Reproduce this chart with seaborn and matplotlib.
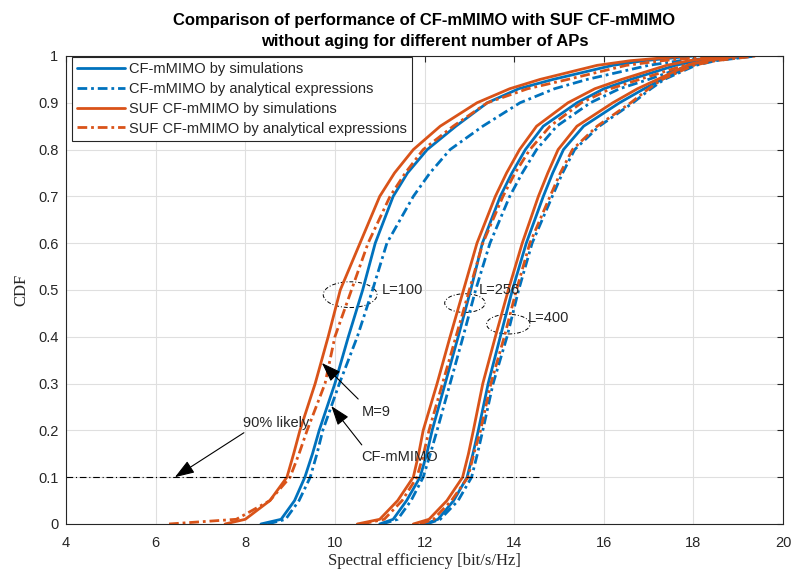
"""CDF of spectral efficiency: CF-mMIMO vs SUF CF-mMIMO (no aging), L = 100/256/400 APs."""
import matplotlib
matplotlib.use("Agg")
import matplotlib.pyplot as plt
from matplotlib.patches import Ellipse
import pandas as pd
import seaborn as sns

# ---------- data ----------
CDF = [0, 0.01, 0.05, 0.1, 0.15, 0.2, 0.3, 0.4, 0.5, 0.6, 0.7, 0.75, 0.8, 0.85, 0.9,
       0.93, 0.95, 0.98, 0.99, 1.0]

CF_SIM_100 = [8.35, 8.8, 9.1, 9.33, 9.5, 9.65, 10.0, 10.3, 10.62, 10.9, 11.3, 11.62, 12.06,
              12.7, 13.4, 14.1, 14.87, 16.2, 16.9, 18.0]
CF_ANA_100 = [8.5, 8.9, 9.2, 9.45, 9.6, 9.73, 10.1, 10.5, 10.84, 11.16, 11.75, 12.12, 12.57,
              13.3, 14.13, 14.9, 15.63, 17.0, 17.7, 19.0]
SUF_SIM_100 = [7.55, 8.0, 8.55, 8.93, 9.08, 9.22, 9.56, 9.85, 10.12, 10.56, 11.0, 11.33, 11.75,
               12.35, 13.17, 13.9, 14.58, 15.85, 16.6, 17.8]
SUF_ANA_100 = [6.3, 7.8, 8.55, 9.0, 9.2, 9.38, 9.78, 10.0, 10.37, 10.74, 11.23, 11.57, 11.97,
               12.64, 13.4, 14.3, 15.2, 16.5, 17.3, 18.5]

CF_SIM_256 = [11.0, 11.3, 11.6, 11.9, 12.05, 12.17, 12.46, 12.75, 13.03, 13.29, 13.69, 13.95,
              14.25, 14.65, 15.4, 16.0, 16.6, 17.6, 18.1, 19.0]
CF_ANA_256 = [11.05, 11.4, 11.7, 11.97, 12.13, 12.28, 12.57, 12.86, 13.14, 13.46, 13.9, 14.18,
              14.5, 14.95, 15.7, 16.35, 17.0, 17.9, 18.4, 19.3]
SUF_SIM_256 = [10.5, 11.0, 11.4, 11.75, 11.87, 11.97, 12.28, 12.57, 12.87, 13.17, 13.58, 13.83,
               14.12, 14.5, 15.2, 15.8, 16.4, 17.4, 17.9, 18.8]
SUF_ANA_256 = [10.6, 11.1, 11.5, 11.83, 11.98, 12.1, 12.4, 12.7, 13.0, 13.3, 13.75, 14.02,
               14.35, 14.8, 15.5, 16.15, 16.8, 17.8, 18.3, 19.2]

CF_SIM_400 = [12.0, 12.3, 12.65, 12.95, 13.08, 13.2, 13.42, 13.69, 13.96, 14.27, 14.65, 14.86,
              15.1, 15.55, 16.35, 16.9, 17.3, 17.95, 18.4, 19.1]
CF_ANA_400 = [12.05, 12.35, 12.75, 13.05, 13.18, 13.3, 13.53, 13.84, 14.1, 14.4, 14.85, 15.08,
              15.35, 15.9, 16.65, 17.05, 17.35, 18.05, 18.5, 19.4]
SUF_SIM_400 = [11.75, 12.1, 12.5, 12.85, 12.98, 13.09, 13.3, 13.58, 13.87, 14.18, 14.54, 14.75,
               14.98, 15.4, 16.2, 16.75, 17.2, 17.86, 18.3, 19.0]
SUF_ANA_400 = [11.9, 12.2, 12.6, 12.97, 13.1, 13.25, 13.48, 13.78, 14.05, 14.35, 14.8, 15.03,
               15.3, 15.85, 16.6, 17.0, 17.3, 18.0, 18.5, 19.4]

LABELS = ["CF-mMIMO by simulations", "CF-mMIMO by analytical expressions",
          "SUF CF-mMIMO by simulations", "SUF CF-mMIMO by analytical expressions"]
GROUPS = {
    100: [CF_SIM_100, CF_ANA_100, SUF_SIM_100, SUF_ANA_100],
    256: [CF_SIM_256, CF_ANA_256, SUF_SIM_256, SUF_ANA_256],
    400: [CF_SIM_400, CF_ANA_400, SUF_SIM_400, SUF_ANA_400],
}

BLUE, ORANGE = "#0072BD", "#D95319"
DASHDOT = (0, (3.5, 1.4, 1.0, 1.4))
STYLES = [(BLUE, "-"), (BLUE, DASHDOT), (ORANGE, "-"), (ORANGE, DASHDOT)]
TXT = "#262626"

# ---------- figure ----------
sns.set_theme(style="whitegrid")
plt.rcParams["font.family"] = ["Liberation Sans", "DejaVu Sans"]

fig = plt.figure(figsize=(7.91, 5.76), dpi=100)
ax = fig.add_axes([0.0834, 0.0903, 0.9066, 0.8125])

for L, curves in GROUPS.items():
    for i, se in enumerate(curves):
        color, ls = STYLES[i]
        df = pd.DataFrame({"se": se, "cdf": CDF})
        sns.lineplot(data=df, x="se", y="cdf", ax=ax, color=color, linestyle=ls,
                     linewidth=2.0, sort=False, estimator=None,
                     label=LABELS[i] if L == 100 else None)

# 90% likely reference line
ax.hlines(0.1, 4, 14.55, colors="black", linestyles=(0, (6, 2.5, 1, 2.5)), linewidth=0.8)

# ellipses + labels for the AP groups
for (cx, cy, w, h), (tx, ty, txt) in [
    ((10.34, 0.49, 1.2, 0.055), (11.05, 0.5, "L=100")),
    ((12.9, 0.472, 0.9, 0.04), (13.22, 0.5, "L=256")),
    ((13.87, 0.427, 0.97, 0.042), (14.3, 0.44, "L=400")),
]:
    ax.add_patch(Ellipse((cx, cy), w, h, fill=False, edgecolor="black",
                         linestyle=(0, (4, 2, 1, 2)), linewidth=0.7))
    ax.text(tx, ty, txt, fontsize=10.5, va="center", ha="left", color=TXT)

arrow = dict(arrowstyle="-|>,head_length=1.0,head_width=0.35", color="black",
             linewidth=0.8, shrinkA=0, shrinkB=0)
ax.text(7.95, 0.215, "90% likely", fontsize=10.5, va="center", ha="left", color=TXT)
ax.annotate("", xy=(6.43, 0.1), xytext=(7.97, 0.195), arrowprops=arrow)
ax.text(10.6, 0.24, "M=9", fontsize=10.5, va="center", ha="left", color=TXT)
ax.annotate("", xy=(9.71, 0.344), xytext=(10.52, 0.267), arrowprops=arrow)
ax.text(10.58, 0.143, "CF-mMIMO", fontsize=10.5, va="center", ha="left", color=TXT)
ax.annotate("", xy=(9.92, 0.252), xytext=(10.6, 0.169), arrowprops=arrow)

ax.set_xlim(4, 20)
ax.set_ylim(0, 1)
ax.set_xticks(range(4, 21, 2))
ax.set_yticks([i / 10 for i in range(11)])
ax.set_yticklabels(["0"] + [f"{i / 10:g}" for i in range(1, 10)] + ["1"])
ax.grid(True, color="#dfdfdf", linewidth=0.8)
ax.tick_params(direction="in", length=4, width=0.8, colors=TXT, labelsize=10.5,
               top=True, right=True, labeltop=False, labelright=False)
ax.tick_params(axis="x", pad=8.5)
ax.tick_params(axis="y", pad=5.5)
for s in ax.spines.values():
    s.set_visible(True)
    s.set_color(TXT)
    s.set_linewidth(0.8)

ax.set_xlabel("Spectral efficiency [bit/s/Hz]", family="Liberation Serif", fontsize=12,
              color=TXT, labelpad=2)
ax.set_ylabel("CDF", family="Liberation Serif", fontsize=12, color=TXT, labelpad=6)
ax.set_title("Comparison of performance of CF-mMIMO with SUF CF-mMIMO\n"
             "without aging for different number of APs",
             fontsize=12, fontweight="bold", color="black", pad=7, linespacing=1.5)

leg = ax.legend(loc="upper left", bbox_to_anchor=(0.0084, 0.998), borderaxespad=0,
                fontsize=10.5, handlelength=3.3, frameon=True, fancybox=False,
                borderpad=0.35, labelspacing=0.4, handletextpad=0.25)
leg.get_frame().set_edgecolor(TXT)
leg.get_frame().set_linewidth(0.8)
leg.get_frame().set_alpha(1)
for t in leg.get_texts():
    t.set_color(TXT)

fig.savefig("out.png", dpi=100)
